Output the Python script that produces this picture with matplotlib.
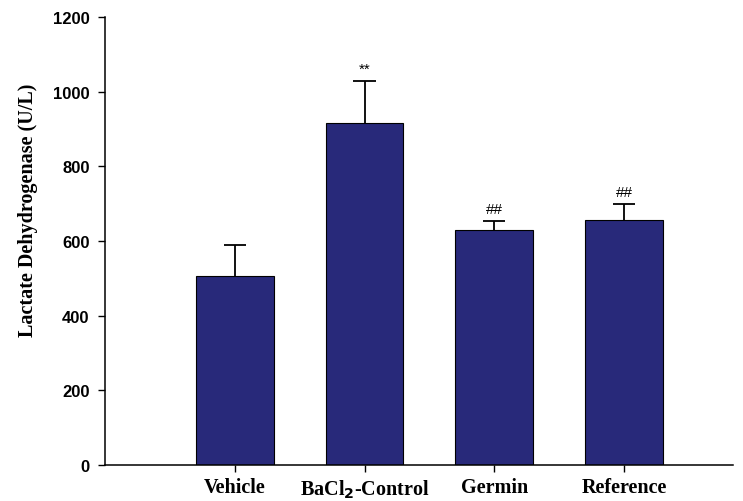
import matplotlib
matplotlib.use("Agg")
import matplotlib.pyplot as plt
import numpy as np

# LDH levels per group (mean and upper SD)
groups = ["Vehicle", "BaCl$_\\mathbf{2}$-Control", "Germin", "Reference"]
ldh_mean = [507, 915, 630, 657]
ldh_sd = [83, 113, 24, 42]
marks = ["", "**", "##", "##"]
yticks = [0, 200, 400, 600, 800, 1000, 1200]

bar_color = "#28297a"

fig = plt.figure(figsize=(7.43, 5.02), dpi=100)
ax = fig.add_axes([105 / 743, 36 / 502, 628 / 743, 448 / 502])

x = np.arange(len(groups))
ax.bar(x, ldh_mean, width=0.6, color=bar_color, edgecolor="black",
       linewidth=0.8, zorder=2)

# upper error bars only: stem plus a cap on top
tops = np.array(ldh_mean) + np.array(ldh_sd)
cap = 0.085
ax.vlines(x, ldh_mean, tops, color="black", linewidth=1.3, zorder=3)
ax.hlines(tops, x - cap, x + cap, color="black", linewidth=1.3, zorder=3)

for xi, t, lab in zip(x, tops, marks):
    if lab:
        ax.text(xi, t + 14, lab, ha="center", va="bottom",
                fontsize=11, family="Liberation Sans")

ax.set_xlim(-1.0, 3.84)
ax.set_ylim(0, 1200)
ax.set_yticks(yticks)
ax.set_xticks(x)
ax.set_xticklabels(groups, family="Liberation Serif", fontweight="bold",
                   fontsize=14.5)
for t in ax.get_yticklabels():
    t.set_family("Liberation Sans")
    t.set_fontweight("bold")
    t.set_fontsize(12)

ax.set_ylabel("Lactate Dehydrogenase (U/L)", family="Liberation Serif",
              fontweight="bold", fontsize=14.5)
ax.yaxis.set_label_coords(-0.106, 0.57)

for side in ["top", "right"]:
    ax.spines[side].set_visible(False)
for side in ["left", "bottom"]:
    ax.spines[side].set_linewidth(1.1)
ax.tick_params(axis="both", direction="out", length=5, width=1.0)
ax.tick_params(axis="y", pad=6)
ax.tick_params(axis="x", pad=4)

fig.savefig("out.png", dpi=100)
